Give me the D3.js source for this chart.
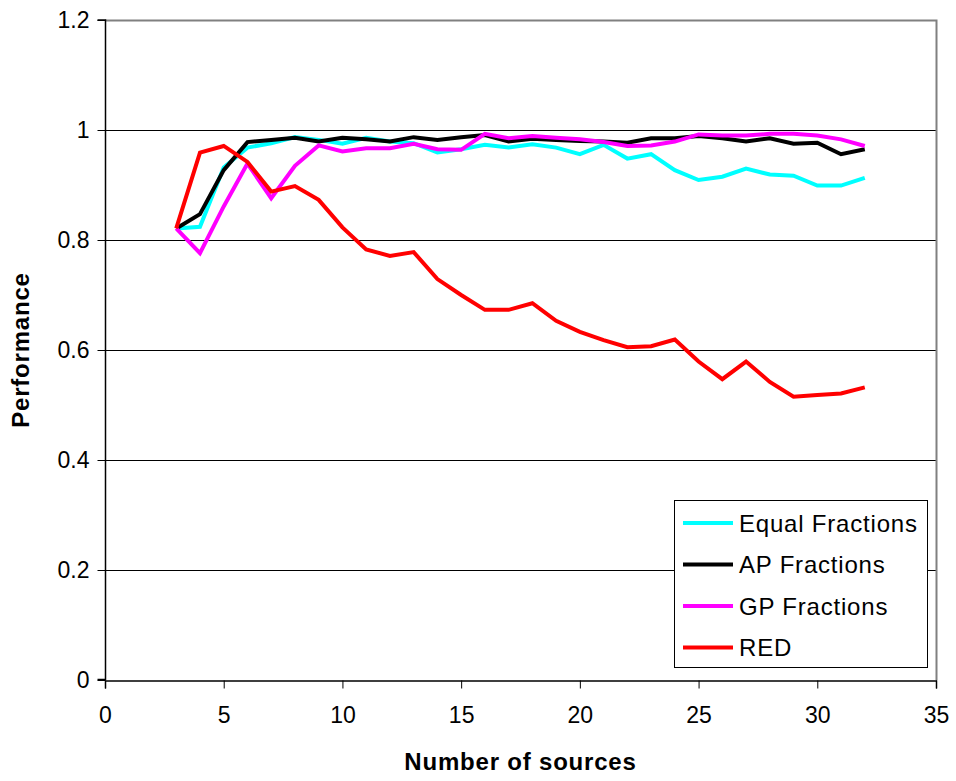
<!DOCTYPE html>
<html lang="en">
<head>
  <meta charset="utf-8">
  <title>Performance vs Number of sources</title>
  <script src="https://d3js.org/d3.v7.min.js"></script>
  <style>
    body { margin: 0; background: #fff; }
    text { font-family: "Liberation Sans", Arial, sans-serif; fill: #000; }
  </style>
</head>
<body>
<svg id="chart" width="956" height="781"></svg>
<script type="text/javascript">

  /* data */
  var sources = [3, 4, 5, 6, 7, 8, 9, 10, 11, 12, 13, 14, 15, 16, 17, 18, 19, 20,
                 21, 22, 23, 24, 25, 26, 27, 28, 29, 30, 31, 32];

  var equalFractions = [0.821, 0.824, 0.932, 0.968, 0.976, 0.987, 0.982, 0.975, 0.986, 0.979,
                        0.976, 0.959, 0.965, 0.973, 0.968, 0.974, 0.968, 0.956, 0.973, 0.948,
                        0.956, 0.927, 0.909, 0.915, 0.930, 0.919, 0.917, 0.899, 0.899, 0.913];

  var apFractions = [0.821, 0.847, 0.927, 0.978, 0.982, 0.986, 0.979, 0.986, 0.983, 0.979,
                     0.987, 0.982, 0.987, 0.991, 0.979, 0.984, 0.982, 0.980, 0.979, 0.977,
                     0.985, 0.985, 0.989, 0.985, 0.979, 0.985, 0.975, 0.977, 0.956, 0.965];

  var gpFractions = [0.821, 0.776, 0.861, 0.939, 0.876, 0.935, 0.972, 0.961, 0.967, 0.967,
                     0.975, 0.965, 0.964, 0.993, 0.985, 0.989, 0.986, 0.983, 0.978, 0.971,
                     0.972, 0.979, 0.992, 0.990, 0.990, 0.993, 0.993, 0.990, 0.983, 0.971];

  var red = [0.821, 0.959, 0.971, 0.942, 0.888, 0.898, 0.873, 0.823, 0.783, 0.771,
             0.778, 0.729, 0.700, 0.673, 0.673, 0.685, 0.653, 0.633, 0.618, 0.605,
             0.607, 0.619, 0.579, 0.547, 0.579, 0.542, 0.515, 0.518, 0.521, 0.532];

  var xTicks = [0, 5, 10, 15, 20, 25, 30, 35];
  var yTicks = [0, 0.2, 0.4, 0.6, 0.8, 1, 1.2];

  var series = [
    { name: "Equal Fractions", color: "#00ffff", values: equalFractions },
    { name: "AP Fractions", color: "#000000", values: apFractions },
    { name: "GP Fractions", color: "#ff00ff", values: gpFractions },
    { name: "RED", color: "#ff0000", values: red }
  ];

  var svg = d3.select("#chart");
  var plotL = 105, plotR = 936, plotT = 20, plotB = 680;

  var x = d3.scaleLinear().domain([0, 35]).range([plotL, plotR]);
  var y = d3.scaleLinear().domain([0, 1.2]).range([plotB, plotT]);

  svg.append("rect").attr("width", 956).attr("height", 781).attr("fill", "#fff");

  /* gridlines */
  svg.append("g")
    .selectAll("line")
    .data(yTicks.filter(function(d) { return d > 0 && d < 1.2; }))
    .enter().append("line")
      .attr("x1", plotL).attr("x2", plotR)
      .attr("y1", function(d) { return Math.round(y(d)) + 0.5; })
      .attr("y2", function(d) { return Math.round(y(d)) + 0.5; })
      .attr("stroke", "#000").attr("stroke-width", 1);

  /* plot frame: grey top/right */
  svg.append("path")
    .attr("d", "M" + plotL + "," + (plotT + 0.5) + "H" + (plotR + 0.5) + "V" + plotB)
    .attr("fill", "none").attr("stroke", "#808080").attr("stroke-width", 2);

  /* axes */
  var yAxis = svg.append("g")
    .attr("transform", "translate(" + (plotL + 0.5) + ",0)")
    .call(d3.axisLeft(y).tickValues(yTicks).tickSize(8).tickPadding(8)
      .tickFormat(function(d) { return d === 0 || d === 1 ? d3.format("d")(d) : d3.format(".1f")(d); }));

  var xAxis = svg.append("g")
    .attr("transform", "translate(0," + (plotB + 0.5) + ")")
    .call(d3.axisBottom(x).tickValues(xTicks).tickSize(8).tickPadding(18).tickFormat(d3.format("d")));

  [yAxis, xAxis].forEach(function(a) {
    a.select(".domain").attr("stroke", "#000").attr("stroke-width", 1.5);
    a.selectAll(".tick line").attr("stroke", "#000");
    a.selectAll(".tick text")
      .style("font-family", "'Liberation Sans', Arial, sans-serif")
      .style("font-size", "23px").attr("fill", "#000");
  });
  yAxis.select(".domain").attr("d", "M-8," + (plotB - 0.5) + "H0V" + plotT + "H-8");

  /* lines */
  var line = d3.line()
    .x(function(d, i) { return x(sources[i]); })
    .y(function(d) { return y(d); });

  svg.append("g")
    .selectAll("path")
    .data(series)
    .enter().append("path")
      .attr("d", function(d) { return line(d.values); })
      .attr("fill", "none")
      .attr("stroke", function(d) { return d.color; })
      .attr("stroke-width", 4)
      .attr("stroke-linejoin", "miter");

  /* axis titles */
  svg.append("text")
    .attr("x", (plotL + plotR) / 2).attr("y", 770)
    .attr("text-anchor", "middle")
    .style("font-size", "24px").style("font-weight", "bold").style("letter-spacing", "0.8px")
    .text("Number of sources");

  svg.append("text")
    .attr("transform", "translate(29,350) rotate(-90)")
    .attr("text-anchor", "middle")
    .style("font-size", "24px").style("font-weight", "bold").style("letter-spacing", "0.8px")
    .text("Performance");

  /* legend */
  var legend = svg.append("g");
  legend.append("rect")
    .attr("x", 674.5).attr("y", 500.5).attr("width", 253).attr("height", 167)
    .attr("fill", "#fff").attr("stroke", "#000").attr("stroke-width", 1);

  var rows = legend.selectAll("g.row")
    .data(series)
    .enter().append("g")
      .attr("class", "row")
      .attr("transform", function(d, i) { return "translate(683," + (523 + i * 41.5) + ")"; });

  rows.append("line")
    .attr("x1", 0).attr("x2", 50)
    .attr("stroke", function(d) { return d.color; })
    .attr("stroke-width", 4);

  rows.append("text")
    .attr("x", 56).attr("y", 8.5)
    .style("font-size", "24px").style("letter-spacing", "0.8px")
    .text(function(d) { return d.name; });

</script>
</body>
</html>
